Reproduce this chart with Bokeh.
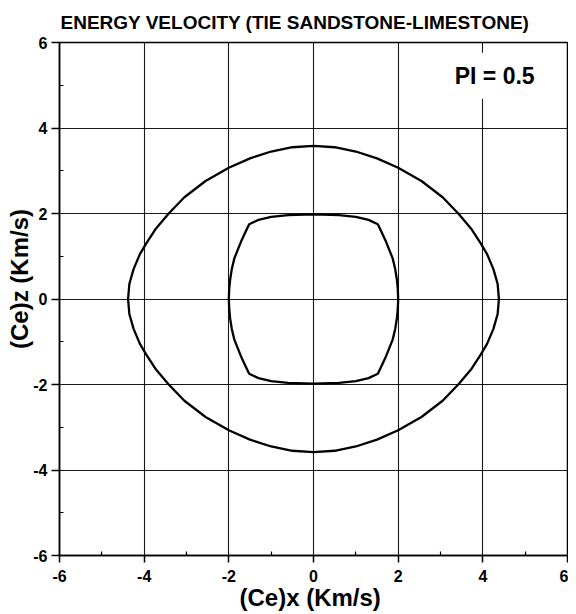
from bokeh.plotting import figure
from bokeh.models import Range1d, FixedTicker, Label
from bokeh.embed import file_html
from bokeh.resources import INLINE

# ---- data ----
major_ticks = [-6, -4, -2, 0, 2, 4, 6]
minor_ticks = [-5, -3, -1, 1, 3, 5]
tick_labels = {-6: "-6", -4: "-4", -2: "-2", 0: "0", 2: "2", 4: "4", 6: "6"}

title_text = "ENERGY VELOCITY (TIE SANDSTONE-LIMESTONE)"
x_label = "(Ce)x  (Km/s)"
z_label = "\u00a0" * 7 + "(Ce)z  (Km/s)"
annot_text = "PI = 0.5"
annot_x = 3.1
annot_z = 5.22

# outer curve (closed loop)
outer_x = [4.38, 4.35, 4.25, 4.10, 3.95, 3.72, 3.42, 3.05, 2.55, 2.00, 1.50, 1.00, 0.50, 0.00,
           -0.50, -1.00, -1.50, -2.00, -2.55, -3.05, -3.42, -3.72, -3.95, -4.10, -4.25, -4.35, -4.38,
           -4.35, -4.25, -4.10, -3.95, -3.72, -3.42, -3.05, -2.55, -2.00, -1.50, -1.00, -0.50, 0.00,
           0.50, 1.00, 1.50, 2.00, 2.55, 3.05, 3.42, 3.72, 3.95, 4.10, 4.25, 4.35, 4.38]
outer_z = [0.00, 0.35, 0.70, 1.05, 1.30, 1.65, 2.00, 2.38, 2.76, 3.07, 3.29, 3.45, 3.55, 3.58,
           3.55, 3.45, 3.29, 3.07, 2.76, 2.38, 2.00, 1.65, 1.30, 1.05, 0.70, 0.35, 0.00,
           -0.35, -0.70, -1.05, -1.30, -1.65, -2.00, -2.38, -2.76, -3.07, -3.29, -3.45, -3.55, -3.58,
           -3.55, -3.45, -3.29, -3.07, -2.76, -2.38, -2.00, -1.65, -1.30, -1.05, -0.70, -0.35, 0.00]

# inner curve (closed loop, with cusps)
inner_x = [2.00, 1.99, 1.97, 1.93, 1.87, 1.79, 1.70, 1.61, 1.52, 1.30, 1.00, 0.60, 0.00,
           -0.60, -1.00, -1.30, -1.52, -1.61, -1.70, -1.79, -1.87, -1.93, -1.97, -1.99, -2.00,
           -1.99, -1.97, -1.93, -1.87, -1.79, -1.70, -1.61, -1.52, -1.30, -1.00, -0.60, 0.00,
           0.60, 1.00, 1.30, 1.52, 1.61, 1.70, 1.79, 1.87, 1.93, 1.97, 1.99, 2.00]
inner_z = [0.00, 0.25, 0.45, 0.70, 0.95, 1.15, 1.37, 1.56, 1.75, 1.85, 1.92, 1.96, 1.98,
           1.96, 1.92, 1.85, 1.75, 1.56, 1.37, 1.15, 0.95, 0.70, 0.45, 0.25, 0.00,
           -0.25, -0.45, -0.70, -0.95, -1.15, -1.37, -1.56, -1.75, -1.85, -1.92, -1.96, -1.98,
           -1.96, -1.92, -1.85, -1.75, -1.56, -1.37, -1.15, -0.95, -0.70, -0.45, -0.25, 0.00]

FONT = "Liberation Sans"

p = figure(width=568, height=613,
           x_range=Range1d(-6, 6), y_range=Range1d(-6, 6),
           output_backend="svg", toolbar_location=None,
           min_border_left=59, min_border_right=1,
           min_border_top=41, min_border_bottom=58,
           title=title_text)

p.title.text_font = FONT
p.title.text_font_size = "19px"
p.title.text_font_style = "bold"
p.title.align = "left"
p.title.offset = 1
p.title.standoff = 19
p.title.text_color = "black"

p.background_fill_color = "white"
p.border_fill_color = "white"
p.outline_line_color = "black"
p.outline_line_width = 1.5

ticker = FixedTicker(ticks=major_ticks, minor_ticks=minor_ticks)
for ax in (p.xaxis[0], p.yaxis[0]):
    ax.ticker = ticker
    ax.major_label_overrides = tick_labels
    ax.axis_line_color = "black"
    ax.axis_line_width = 1.5
    ax.major_tick_line_color = "black"
    ax.major_tick_line_width = 1.5
    ax.major_tick_in = 0
    ax.minor_tick_line_color = "black"
    ax.minor_tick_line_width = 1.2
    ax.minor_tick_in = 4
    ax.minor_tick_out = 0
    ax.major_label_text_font = FONT
    ax.major_label_text_font_size = "16px"
    ax.major_label_text_font_style = "bold"
    ax.major_label_text_color = "black"
    ax.axis_label_text_font = FONT
    ax.axis_label_text_font_size = "24px"
    ax.axis_label_text_font_style = "bold"
    ax.axis_label_text_color = "black"

p.xaxis.axis_label = x_label
p.xaxis.major_tick_out = 7
p.xaxis.major_label_standoff = 7
p.xaxis.axis_label_standoff = -1
p.yaxis.axis_label = z_label
p.yaxis.major_tick_out = 8
p.yaxis.major_label_standoff = 4
p.yaxis.axis_label_standoff = -3
p.yaxis.major_label_orientation = "horizontal"

for g in (p.xgrid[0], p.ygrid[0]):
    g.ticker = ticker
    g.grid_line_color = "black"
    g.grid_line_width = 1.1
    g.grid_line_alpha = 0.9

p.line(outer_x, outer_z, line_color="black", line_width=2.3)
p.line(inner_x, inner_z, line_color="black", line_width=2.3)

p.add_layout(Label(x=annot_x, y=annot_z, text=annot_text,
                   text_font=FONT, text_font_size="23px", text_font_style="bold",
                   text_color="black", text_baseline="middle",
                   background_fill_color="white", padding=10))

open("out.html", "w").write(file_html(p, INLINE))
